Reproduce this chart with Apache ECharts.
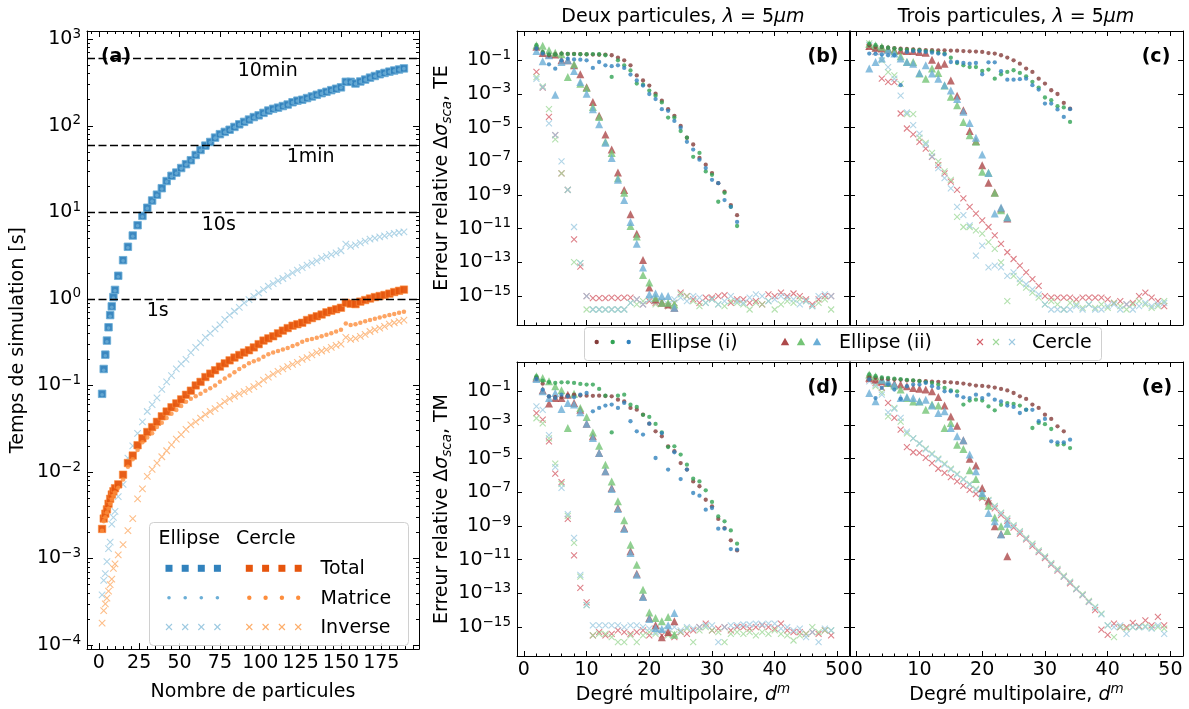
<!DOCTYPE html>
<html><head><meta charset="utf-8">
<script src="https://cdn.jsdelivr.net/npm/echarts@6/dist/echarts.min.js"></script>
<style>html,body{margin:0;padding:0;background:#fff}#c{width:1189px;height:709px}</style>
</head><body><div id="c"></div>
<script>
// ---------------- DATA ----------------
// Panel (a): number of particles and simulation times [s]
const nParticles = [2,3,4,5,6,7,8,9,10,12,15,18,21,24,27,30,33,36,39,42,45,48,51,54,57,60,63,66,69,72,75,78,81,84,87,90,93,96,99,102,105,108,111,114,117,120,123,126,129,132,135,138,141,144,147,150,153,156,159,162,165,168,171,174,177,180,183,186,189];
const ellipseTotal = [0.08,0.155,0.227,0.33,0.47,0.65,0.82,1.05,1.27,
 1.85,2.8,4.0,5.4,7.1,9.1,11.3,13.7,16,19,
 23,26.4,28.8,32.5,36,40,46,52.5,59,65,
 73,80,85,90,97,104,111,118,126,132,
 141,150,157,162,169,176,187,195,200,209,
 218,228,238,247,258,268,278,322,322,308,
 325,342,360,376,394,408,422,435,447,460];
const ellipseMatrice = [0.078,0.15,0.22,0.32,0.46,0.63,0.8,1.02,1.24,
 1.8,2.75,3.9,5.3,7.0,8.9,11.1,13.4,15.7,18.6,
 22.5,26,28.3,32,35.4,39.4,45.3,51.7,58,64,
 72,79,84,89,96,103,110,117,124,130,
 139,148,155,160,167,174,185,193,198,207,
 216,226,236,245,256,266,276,319,319,305,
 322,339,357,373,391,405,419,432,444,457];
const ellipseInverse = [3.8e-4,5.6e-4,6.7e-4,9.2e-4,1.3e-3,1.55e-3,2.5e-3,3.0e-3,3.5e-3,
 0.0052,0.0072,0.0145,0.02,0.028,0.038,0.05,0.06,0.072,0.09,
 0.11,0.13,0.155,0.178,0.2,0.24,0.275,0.31,0.36,0.4,
 0.45,0.5,0.58,0.65,0.72,0.8,0.9,0.98,1.07,1.17,
 1.28,1.4,1.5,1.62,1.72,1.85,2.0,2.15,2.3,2.45,
 2.6,2.75,2.95,3.1,3.25,3.4,3.6,4.3,4.05,4.2,
 4.45,4.65,4.9,5.05,5.2,5.35,5.55,5.7,5.85,5.95];
const cercleTotal = [0.0022,0.0029,0.0033,0.0037,0.0043,0.0049,0.0055,0.006,0.0065,
 0.0072,0.0093,0.0127,0.0155,0.0204,0.0245,0.029,0.033,0.038,0.044,
 0.05,0.056,0.062,0.069,0.078,0.087,0.1,0.11,0.125,0.137,
 0.15,0.165,0.18,0.195,0.21,0.225,0.24,0.255,0.275,0.3,
 0.33,0.35,0.37,0.4,0.43,0.46,0.49,0.51,0.53,0.57,
 0.6,0.63,0.66,0.7,0.73,0.76,0.79,0.9,0.88,0.87,
 0.93,0.97,1.01,1.05,1.08,1.11,1.15,1.2,1.24,1.28];
const cercleMatrice = [0.0021,0.0027,0.003,0.0034,0.0038,0.0043,0.0048,0.0053,0.0058,
 0.0066,0.0082,0.0115,0.014,0.018,0.022,0.025,0.028,0.033,0.037,
 0.042,0.047,0.052,0.058,0.065,0.07,0.075,0.08,0.087,0.093,
 0.1,0.11,0.12,0.13,0.142,0.155,0.167,0.18,0.19,0.2,
 0.215,0.23,0.24,0.25,0.26,0.27,0.285,0.3,0.32,0.335,
 0.345,0.355,0.37,0.385,0.4,0.42,0.44,0.52,0.5,0.51,
 0.53,0.55,0.57,0.59,0.61,0.63,0.65,0.67,0.69,0.71];
const cercleInverse = [1.8e-4,2.5e-4,3.0e-4,3.5e-4,4.2e-4,5.0e-4,5.8e-4,7.7e-4,8.7e-4,
 1.1e-3,1.45e-3,2.1e-3,2.9e-3,4.9e-3,6.4e-3,8.9e-3,0.0107,0.0127,0.015,
 0.0176,0.0206,0.024,0.027,0.031,0.035,0.038,0.042,0.046,0.05,
 0.054,0.059,0.065,0.07,0.075,0.08,0.085,0.09,0.097,0.104,
 0.115,0.125,0.135,0.145,0.155,0.165,0.175,0.185,0.2,0.21,
 0.225,0.24,0.25,0.26,0.275,0.29,0.3,0.36,0.34,0.35,
 0.37,0.39,0.42,0.44,0.46,0.48,0.51,0.53,0.55,0.57];
const refTimes = [600, 60, 10, 1];
const refNames = ['10min', '1min', '10s', '1s'];
const refLabelAt = [104.6, 131.2, 74.3, 36.5];

// Panels (b)-(e): multipolar degree and log10 of relative error
const degrees = [2,3,4,5,6,7,8,9,10,11,12,13,14,15,16,17,18,19,20,21,22,23,24,25,26,27,28,29,30,31,32,33,34,35,36,37,38,39,40,41,42,43,44,45,46,47,48,49];
// (b) Deux particules TE
const b_dot_1 = [-0.3,-0.55,-0.7,-0.65,-0.6,-0.62,-0.62,-0.63,-0.65,-0.66,-0.67,-0.66,-0.7,-0.85,-1.0,-1.3,-1.9,-2.2,-2.5,-2.98,-3.4,-3.9,-4.3,-4.9,-5.6,-6.0,-6.8,-7.2,-7.7,-8.3,-8.8,-9.6,-10.2];
const b_dot_2 = [-0.1,-0.5,-0.65,-0.65,-0.6,-0.62,-0.63,-0.64,-0.64,-0.63,-0.64,-0.7,-1.99,-1.0,-1.3,-1.6,-2.38,-2.45,-2.8,-3.1,-3.5,-4.4,-4.4,-5.2,-5.6,-6.73,-6.5,-7.6,-7.8,-9.4,-8.87,-9.7,-10.84];
const b_dot_3 = [-0.3,-0.6,-1.24,-1.5,-1.0,-0.9,-0.95,-0.96,-1.0,-1.45,-1.1,-1.3,-1.35,-1.3,-1.45,-1.85,-2.2,-2.5,-3.0,-3.3,-3.9,-4.0,-4.6,-5.0,-5.84,-6.3,-6.9,-7.4,-8.1,-8.3,-9.3,-9.7,-10.6];
const b_tri_1 = [-0.2,-0.57,-0.65,-0.66,-0.99,-1.0,-1.3,-1.83,-2.6,-3.47,-4.3,-5.4,-6.3,-7.66,-8.7,-10.15,-11.3,-12.86,-14.5,-15.2,-15.4,-15.5,-15.7];
const b_tri_2 = [-0.1,-0.14,-0.4,-0.55,-0.64,-1.99,-1.24,-2.4,-2.65,-3.77,-4.36,-5.84,-6.5,-8.0,-8.87,-10.84,-11.47,-13.75,-14.2,-15.1,-15.4,-15.4,-15.5];
const b_tri_3 = [-0.45,-1.06,-0.7,-3.04,-1.1,-1.0,-1.63,-2.29,-2.98,-3.9,-4.8,-5.9,-6.8,-8.1,-9.3,-10.6,-11.9,-13.3,-14.9,-14.85,-15.0,-15.0,-15.7];
const b_x_1 = [-1.69,-2.62,-4.36,-5.45,-7.72,-8.7,-11.63,-13.25,-15.0,-15.13,-15.13,-15.13,-15.1,-15.12,-15.1,-15.1,-15.2,-15.5,-15.3,-15.4,-15.3,-15.6,-15.4,-14.8,-15.0,-15.2,-15.4,-15.1,-15.1,-15.0,-14.95,-15.4,-15.2,-15.2,-15.4,-15.3,-15.5,-14.9,-15.0,-14.8,-15.0,-14.85,-15.0,-15.2,-15.5,-15.2,-15.0,-15.0];
const b_x_2 = [-2.0,-2.55,-3.9,-5.7,-7.72,-8.7,-12.98,-13.05,-15.8,-15.8,-15.8,-15.8,-15.8,-15.8,-15.8,-15.4,-15.5,-15.3,-15.2,-15.5,-15.3,-15.6,-15.4,-14.9,-15.0,-15.3,-15.6,-15.4,-15.2,-15.5,-15.6,-15.3,-15.4,-15.5,-15.8,-15.4,-15.5,-15.3,-15.8,-15.5,-15.3,-15.4,-15.2,-15.3,-15.6,-15.4,-15.2,-15.8];
const b_x_3 = [-2.1,-2.6,-4.75,-5.45,-7.0,-8.7,-10.9,-13.05,-15.0,-15.8,-15.8,-15.8,-15.8,-15.8,-15.8,-15.4,-15.2,-15.5,-15.2,-15.3,-15.4,-15.5,-15.2,-15.1,-15.3,-15.0,-15.1,-15.4,-15.2,-15.5,-15.3,-15.0,-15.3,-15.4,-15.1,-14.9,-15.0,-15.3,-15.2,-15.0,-15.1,-15.2,-15.5,-15.3,-15.6,-15.0,-14.9,-15.0];
// (c) Trois particules TE
const c_dot_1 = [-0.11,-0.21,-0.21,-0.25,-0.28,-0.31,-0.33,-0.35,-0.37,-0.39,-0.4,-0.41,-0.41,-0.42,-0.43,-0.45,-0.47,-0.48,-0.5,-0.57,-0.6,-0.7,-0.84,-1.0,-1.2,-1.49,-1.69,-2.09,-2.38,-2.78,-3.0,-3.53,-3.87];
const c_dot_2 = [-0.02,-0.1,-0.2,-0.25,-0.3,-0.35,-0.37,-0.4,-0.4,-0.45,-0.47,-0.55,-0.6,-0.85,-1.16,-1.3,-1.4,-1.4,-1.63,-1.55,-2.09,-1.83,-1.69,-1.59,-1.75,-1.95,-2.28,-2.62,-3.21,-3.37,-3.73,-3.8,-4.66];
const c_dot_3 = [-0.6,-0.62,-0.65,-0.7,-0.7,-2.48,-0.5,-0.45,-0.45,-0.5,-0.55,-0.6,-0.65,-1.1,-1.1,-1.16,-1.2,-1.16,-1.83,-1.12,-1.12,-1.65,-2.15,-2.15,-2.12,-2.09,-2.48,-2.74,-3.57,-3.57,-3.92,-4.36,-3.9];
const c_tri_1 = [-0.15,-0.25,-0.3,-0.35,-0.4,-0.42,-0.45,-0.45,-0.5,-0.55,-0.96,-1.3,-1.2,-2.2,-3.1,-3.96,-5.2,-5.8,-7.23,-8.27,-8.85,-9.8,-10.39];
const c_tri_2 = [-0.02,-0.1,-0.2,-0.3,-0.45,-0.76,-1.1,-1.1,-1.79,-2.09,-1.49,-1.75,-2.5,-3.17,-3.67,-4.66,-5.45,-5.84,-7.62,-7.68,-8.87,-9.9,-10.3];
const c_tri_3 = [-1.49,-1.1,-0.9,-0.41,-0.6,-0.9,-1.1,-1.2,-1.75,-1.3,-1.79,-2.09,-2.48,-2.8,-3.3,-4.06,-4.72,-5.6,-6.6,-7.7,-10.1,-9.74,-10.33];
const c_x_1 = [-0.2,-0.5,-2.09,-2.28,-2.3,-4.16,-5.05,-5.4,-5.84,-6.24,-6.73,-7.23,-7.72,-8.21,-8.7,-9.2,-9.7,-10.1,-10.5,-10.9,-11.4,-11.9,-12.4,-12.8,-13.2,-13.6,-14.0,-14.4,-15.0,-15.1,-15.1,-15.1,-15.1,-15.2,-15.1,-15.1,-15.1,-15.1,-15.2,-15.4,-15.3,-15.5,-15.4,-15.0,-14.8,-15.1,-15.3,-15.6];
const c_x_2 = [-0.0,-0.3,-1.0,-1.7,-1.9,-2.4,-4.2,-4.2,-5.6,-5.9,-6.5,-7.0,-7.6,-8.1,-10.3,-10.9,-10.9,-11.1,-11.3,-11.8,-12.2,-13.0,-15.3,-13.8,-14.2,-14.5,-14.8,-15.1,-15.5,-15.3,-15.5,-15.8,-15.4,-15.5,-15.7,-15.5,-15.7,-15.5,-15.7,-15.4,-15.6,-15.8,-15.5,-15.3,-15.5,-15.7,-15.6,-15.3];
const c_x_3 = [-0.1,-0.5,-0.75,-1.4,-2.09,-3.1,-4.1,-4.85,-5.35,-6.0,-6.7,-7.4,-8.0,-8.6,-9.7,-10.2,-10.8,-12.6,-12.0,-13.3,-13.2,-13.3,-13.8,-13.6,-14.0,-14.3,-14.6,-14.9,-15.5,-15.8,-15.8,-15.8,-15.8,-15.6,-15.8,-15.5,-15.8,-15.8,-15.6,-15.5,-15.8,-15.5,-15.8,-15.6,-15.4,-15.6,-15.5,-15.4];
// (d) Deux particules TM
const d_dot_1 = [-0.2,-0.55,-1.3,-1.35,-1.35,-1.25,-1.2,-1.25,-1.26,-1.27,-1.26,-1.28,-1.3,-1.5,-1.6,-1.99,-2.09,-2.39,-2.92,-3.38,-3.67,-4.27,-4.56,-5.26,-5.65,-6.35,-6.64,-7.44,-7.83,-8.58,-9.12,-9.85,-10.45];
const d_dot_2 = [-0.11,-0.37,-0.45,-0.5,-0.47,-0.47,-0.5,-0.56,-0.6,-0.6,-0.86,-1.26,-3.44,-1.26,-1.2,-1.8,-1.93,-2.4,-2.52,-2.94,-3.44,-4.31,-4.27,-4.76,-5.36,-6.19,-6.35,-6.88,-7.57,-8.43,-8.72,-9.26,-10.05];
const d_dot_3 = [-0.27,-0.9,-1.3,-1.4,-1.2,-1.3,-1.36,-1.2,-1.1,-2.19,-1.99,-1.85,-1.79,-1.99,-1.69,-2.78,-3.38,-3.57,-2.92,-4.96,-3.48,-5.65,-4.62,-6.21,-5.65,-7.04,-7.2,-8.03,-7.93,-9.16,-9.16,-10.37,-10.4];
const d_tri_1 = [-0.2,-0.94,-1.73,-1.4,-1.4,-1.2,-1.69,-2.1,-2.92,-3.67,-4.66,-5.75,-6.74,-7.93,-9.12,-10.5,-11.83,-13.18,-14.47,-14.9,-15.6,-15.3,-14.66];
const d_tri_2 = [-0.11,-0.21,-0.41,-0.7,-0.94,-3.18,-1.14,-1.99,-2.52,-3.44,-4.23,-5.36,-6.35,-7.53,-8.66,-10.11,-11.3,-12.78,-14.13,-14.47,-14.66,-14.4,-15.46];
const d_tri_3 = [-0.27,-1.0,-1.4,-1.1,-2.05,-1.69,-1.79,-2.25,-2.92,-3.77,-4.66,-5.75,-6.8,-7.99,-9.18,-10.6,-11.89,-13.22,-14.52,-15.06,-15.12,-14.9,-14.17];
const d_x_1 = [-2.29,-2.68,-3.97,-5.89,-6.4,-8.58,-10.74,-12.68,-13.53,-15.5,-15.3,-15.5,-15.4,-15.2,-15.3,-15.4,-15.3,-15.2,-15.5,-15.1,-15.5,-15.4,-15.6,-15.3,-15.4,-15.2,-15.0,-14.8,-15.2,-15.1,-15.0,-15.2,-15.0,-15.0,-15.1,-15.0,-14.9,-15.0,-15.1,-14.8,-15.2,-15.3,-15.3,-15.4,-15.3,-15.4,-15.2,-15.5];
const d_x_2 = [-2.6,-2.9,-3.8,-5.3,-6.5,-8.4,-10.0,-12.0,-13.7,-15.5,-15.4,-15.4,-15.6,-15.9,-15.9,-15.5,-15.9,-15.5,-15.3,-15.4,-15.2,-15.5,-15.4,-15.3,-15.1,-15.9,-15.2,-15.0,-15.2,-15.3,-15.9,-15.4,-15.3,-15.4,-15.3,-15.5,-15.3,-15.4,-15.2,-15.4,-15.5,-15.8,-15.5,-15.4,-15.0,-15.3,-15.2,-15.2];
const d_x_3 = [-1.9,-2.1,-3.6,-5.5,-6.74,-8.3,-9.7,-11.9,-13.7,-14.9,-14.9,-14.9,-14.9,-14.9,-15.0,-14.9,-14.9,-15.0,-15.1,-15.3,-15.2,-15.1,-15.0,-15.2,-15.0,-15.1,-15.0,-14.9,-14.9,-15.9,-15.0,-14.9,-14.9,-14.85,-14.85,-14.8,-14.85,-14.8,-14.8,-15.1,-15.0,-15.2,-15.1,-15.6,-15.3,-15.9,-15.1,-15.2];
// (e) Trois particules TM
const e_dot_1 = [-0.15,-0.2,-0.25,-0.28,-0.3,-0.32,-0.35,-0.37,-0.38,-0.4,-0.42,-0.44,-0.45,-0.47,-0.5,-0.54,-0.6,-0.66,-0.68,-0.72,-0.78,-0.86,-0.95,-1.1,-1.3,-1.45,-1.79,-1.99,-2.39,-2.64,-3.08,-3.38];
const e_dot_2 = [0.0,-0.1,-0.18,-0.2,-0.25,-0.28,-0.32,-0.35,-0.4,-0.45,-0.5,-0.6,-0.8,-0.95,-1.0,-1.79,-1.55,-1.5,-1.55,-1.9,-2.13,-1.8,-1.7,-1.75,-1.85,-2.09,-3.18,-2.88,-2.95,-3.24,-4.17,-4.15,-4.37];
const e_dot_3 = [-0.3,-1.4,-0.8,-0.6,-0.9,-1.45,-0.7,-0.6,-0.6,-0.5,-0.7,-0.8,-1.0,-1.0,-1.26,-1.36,-1.4,-1.2,-1.4,-1.2,-1.5,-1.6,-1.85,-1.93,-2.29,-2.1,-2.1,-2.78,-2.64,-3.97,-4.03,-4.03,-3.87];
const e_tri_1 = [-0.2,-0.3,-0.4,-0.5,-0.55,-0.6,-0.7,-0.8,-0.85,-0.9,-1.0,-1.34,-1.85,-2.49,-3.04,-3.9,-5.0,-5.4,-6.74,-7.5,-9.02,-9.48,-10.8];
const e_tri_2 = [0.0,-0.1,-0.3,-0.5,-0.65,-0.9,-1.4,-1.6,-1.6,-2.09,-1.79,-1.85,-3.18,-2.88,-4.17,-4.43,-5.69,-6.21,-7.2,-7.79,-8.5,-9.02,-9.3];
const e_tri_3 = [-1.1,-1.59,-0.31,-0.41,-0.6,-1.4,-1.34,-1.4,-1.59,-1.5,-1.85,-2.29,-2.19,-3.18,-3.67,-3.91,-4.76,-5.75,-7.04,-8.23,-8.72,-9.51,-8.86];
const e_x_1 = [-0.31,-0.5,-0.8,-1.69,-2.58,-3.28,-4.31,-4.62,-4.66,-4.96,-5.26,-5.6,-5.85,-6.1,-6.35,-6.6,-6.85,-7.1,-7.35,-7.65,-7.95,-8.35,-8.7,-9.1,-9.45,-9.8,-10.2,-10.55,-10.9,-11.3,-11.65,-12.0,-12.4,-12.75,-13.1,-13.5,-14.0,-15.16,-15.46,-14.8,-15.0,-15.0,-14.75,-14.95,-14.6,-14.9,-14.4,-14.9];
const e_x_2 = [-0.21,-0.7,-1.06,-2.49,-1.99,-2.8,-3.5,-3.8,-4.1,-4.4,-4.7,-5.0,-5.3,-5.6,-5.9,-6.2,-6.5,-6.8,-7.1,-7.45,-7.8,-8.2,-8.55,-8.95,-9.3,-9.7,-10.05,-10.45,-10.8,-11.2,-11.55,-11.95,-12.3,-12.7,-13.05,-13.45,-13.8,-14.2,-14.9,-15.6,-15.0,-15.1,-15.0,-15.0,-14.95,-15.05,-15.0,-15.1];
const e_x_3 = [-0.41,-0.6,-1.2,-2.25,-2.05,-2.58,-3.4,-3.8,-4.1,-4.45,-4.75,-5.05,-5.35,-5.65,-5.95,-6.25,-6.55,-6.85,-7.15,-7.5,-7.85,-8.25,-8.6,-9.0,-9.35,-9.75,-10.1,-10.5,-10.85,-11.25,-11.6,-12.0,-12.35,-12.75,-13.1,-13.5,-13.85,-14.25,-14.9,-15.0,-14.9,-15.4,-15.0,-15.0,-15.0,-15.1,-14.9,-15.4];

// ---------------- CHART ----------------
const FF = 'DejaVu Sans';
const FS = 19;
const C = { eTot:'#3182bd', eMat:'#6baed6', eInv:'#9ecae1', cTot:'#e6550d', cMat:'#fd8d3c', cInv:'#fdae6b',
  dot:['#843c39','#31a354','#3182bd'], tri:['#ad494a','#74c476','#6baed6'], crs:['#d6616b','#a1d99b','#9ecae1'] };
const CROSS = 'path://M0,0L10,10M10,0L0,10';

const grids = [
  {left:87, top:31, width:332, height:624},
  {left:517, top:31, width:332, height:294},
  {left:850, top:31, width:333, height:294},
  {left:517, top:362, width:332, height:294},
  {left:850, top:362, width:333, height:294}
];

const supRich = {
  b:{fontFamily:FF, fontSize:FS, lineHeight:24, color:'#000'},
  s:{fontFamily:FF, fontSize:13.5, lineHeight:13, verticalAlign:'top', color:'#000'}
};
const expLabel = v => { const n = Math.round(v); return '{b|10}{s|' + (n < 0 ? '\u2212' + (-n) : String(n)) + '}'; };

const xAxis = [], yAxis = [], mainX = [], mainY = [];
function axisBase(gi, min, max, pos, ticks, len, showLine) {
  return {type:'value', gridIndex:gi, min:min, max:max, position:pos,
    axisLine:{show:showLine, onZero:false, lineStyle:{color:'#000', width:1}},
    axisTick:{show:true, inside:true, length:len, customValues:ticks, lineStyle:{color:'#000', width:1}},
    axisLabel:{show:false}, splitLine:{show:false}, minorTick:{show:false}, minorSplitLine:{show:false},
    axisPointer:{show:false}, silent:true, z:5};
}
function range(a, b, s) { const r = []; for (let v = a; v <= b + 1e-9; v += s) r.push(+v.toFixed(6)); return r; }

// --- panel (a) axes
{
  const xmin = -7.35, xmax = 198.35, ymin = -4.046, ymax = 3.095;
  const xMaj = range(0, 175, 25), xMin = range(-5, 195, 5);
  const yMaj = range(-4, 3, 1);
  const yMin = [];
  for (let n = -5; n <= 3; n++) for (let k = 2; k <= 9; k++) { const v = n + Math.log10(k); if (v > ymin && v < ymax) yMin.push(v); }
  const xb = axisBase(0, xmin, xmax, 'bottom', xMaj, 6, true);
  xb.axisLabel = {show:true, customValues:xMaj, margin:2, color:'#000', fontFamily:FF, fontSize:FS, lineHeight:24};
  xb.name = 'Nombre de particules'; xb.nameLocation = 'middle'; xb.nameGap = 25;
  xb.nameTextStyle = {fontFamily:FF, fontSize:FS, color:'#000', lineHeight:24};
  mainX[0] = xAxis.length; xAxis.push(xb);
  xAxis.push(axisBase(0, xmin, xmax, 'top', xMaj, 6, true));
  xAxis.push(axisBase(0, xmin, xmax, 'bottom', xMin, 3, false));
  xAxis.push(axisBase(0, xmin, xmax, 'top', xMin, 3, false));
  const yl = axisBase(0, ymin, ymax, 'left', yMaj, 6, true);
  yl.axisLabel = {show:true, customValues:yMaj, margin:6, formatter:expLabel, rich:supRich};
  yl.name = 'Temps de simulation [s]'; yl.nameLocation = 'middle'; yl.nameRotate = 90; yl.nameGap = 57;
  yl.nameTextStyle = {fontFamily:FF, fontSize:FS, color:'#000', lineHeight:24};
  mainY[0] = yAxis.length; yAxis.push(yl);
  yAxis.push(axisBase(0, ymin, ymax, 'right', yMaj, 6, true));
  yAxis.push(axisBase(0, ymin, ymax, 'left', yMin, 3, false));
  yAxis.push(axisBase(0, ymin, ymax, 'right', yMin, 3, false));
}
// --- panels (b)-(e) axes
const errRich = {
  n:{fontFamily:FF, fontSize:FS, lineHeight:24, color:'#000'},
  g:{fontFamily:FF, fontSize:FS, lineHeight:24, color:'#000'},
  i:{fontFamily:FF, fontSize:FS, lineHeight:24, fontStyle:'italic', color:'#000'},
  sub:{fontFamily:FF, fontSize:13.5, lineHeight:13, fontStyle:'italic', verticalAlign:'bottom', color:'#000'}
};
const degRich = {
  n:{fontFamily:FF, fontSize:FS, lineHeight:24, color:'#000'},
  i:{fontFamily:FF, fontSize:FS, lineHeight:24, fontStyle:'italic', color:'#000'},
  sup:{fontFamily:FF, fontSize:13.5, lineHeight:13, fontStyle:'italic', verticalAlign:'top', color:'#000'}
};
const panelCfg = [
  {gi:1, xl:false, yl:true,  mode:'TE', xmin:-1.1,  xmax:51.85},
  {gi:2, xl:false, yl:false, mode:'TE', xmin:-1.07, xmax:52.0},
  {gi:3, xl:true,  yl:true,  mode:'TM', xmin:-1.1,  xmax:51.85},
  {gi:4, xl:true,  yl:false, mode:'TM', xmin:-1.07, xmax:52.0}
];
panelCfg.forEach(p => {
  const ymin = -16.72, ymax = 0.74;
  const xMaj = range(0, 50, 10), xMin = range(0, 50, 2), yMaj = range(-15, -1, 2);
  const xb = axisBase(p.gi, p.xmin, p.xmax, 'bottom', xMaj, 5, true);
  if (p.xl) {
    xb.axisLabel = {show:true, customValues:xMaj, margin:2, color:'#000', fontFamily:FF, fontSize:FS, lineHeight:24};
    xb.name = '{n|Degré multipolaire, }{i|d}{sup|m}'; xb.nameLocation = 'middle'; xb.nameGap = 26;
    xb.nameTextStyle = {rich:degRich, lineHeight:24};
  }
  mainX[p.gi] = xAxis.length; xAxis.push(xb);
  xAxis.push(axisBase(p.gi, p.xmin, p.xmax, 'top', xMaj, 5, true));
  xAxis.push(axisBase(p.gi, p.xmin, p.xmax, 'bottom', xMin, 2.5, false));
  xAxis.push(axisBase(p.gi, p.xmin, p.xmax, 'top', xMin, 2.5, false));
  const yl = axisBase(p.gi, ymin, ymax, 'left', yMaj, 5, true);
  if (p.yl) {
    yl.axisLabel = {show:true, customValues:yMaj, margin:6, formatter:expLabel, rich:supRich};
    yl.name = '{n|Erreur relative }{g|\u0394}{i|\u03c3}{sub|sca}{n|, ' + p.mode + '}';
    yl.nameLocation = 'middle'; yl.nameRotate = 90; yl.nameGap = 63;
    yl.nameTextStyle = {rich:errRich, lineHeight:24};
  }
  mainY[p.gi] = yAxis.length; yAxis.push(yl);
  yAxis.push(axisBase(p.gi, ymin, ymax, 'right', yMaj, 5, true));
});

// --- series
const series = [];
function sc(gi, data, sym, size, color, itemStyle) {
  const it = itemStyle || (sym === CROSS ? {color:color, borderColor:color, borderWidth:1.1} : {color:color});
  series.push({type:'scatter', xAxisIndex:mainX[gi], yAxisIndex:mainY[gi], data:data, symbol:sym,
    symbolSize:size, itemStyle:it, silent:true, animation:false, z:2});
}
const aData = vals => nParticles.map((x, i) => [x, Math.log10(vals[i])]);
sc(0, aData(ellipseTotal), 'rect', 7.5, C.eTot, {color:C.eTot, opacity:0.95, borderColor:'rgba(107,174,214,0.9)', borderWidth:1});
sc(0, aData(ellipseMatrice), 'circle', 3.6, C.eMat);
sc(0, aData(ellipseInverse), CROSS, 6.5, C.eInv);
sc(0, aData(cercleTotal), 'rect', 7.5, C.cTot, {color:C.cTot, opacity:0.95, borderColor:'rgba(253,141,60,0.6)', borderWidth:1});
sc(0, aData(cercleMatrice), 'circle', 4.5, C.cMat);
sc(0, aData(cercleInverse), CROSS, 6.5, C.cInv);

// reference lines (dashed)
series.push({
  type:'line', xAxisIndex:mainX[0], yAxisIndex:mainY[0], silent:true, animation:false, z:4,
  data: [], showSymbol:false,
  markLine:{silent:true, symbol:'none', animation:false, label:{show:false},
    lineStyle:{color:'#000', type:[8, 3.5], width:1.4},
    data: refTimes.map(t => ({yAxis: Math.log10(t)}))}
});

const dData = arr => arr.map((v, i) => [degrees[i], v]);
const panels = [
  {gi:1, dots:[b_dot_1,b_dot_2,b_dot_3], tris:[b_tri_1,b_tri_2,b_tri_3], crs:[b_x_1,b_x_2,b_x_3]},
  {gi:2, dots:[c_dot_1,c_dot_2,c_dot_3], tris:[c_tri_1,c_tri_2,c_tri_3], crs:[c_x_1,c_x_2,c_x_3]},
  {gi:3, dots:[d_dot_1,d_dot_2,d_dot_3], tris:[d_tri_1,d_tri_2,d_tri_3], crs:[d_x_1,d_x_2,d_x_3]},
  {gi:4, dots:[e_dot_1,e_dot_2,e_dot_3], tris:[e_tri_1,e_tri_2,e_tri_3], crs:[e_x_1,e_x_2,e_x_3]}
];
panels.forEach(p => {
  [0,1,2].forEach(k => sc(p.gi, dData(p.crs[k]), CROSS, 6, C.crs[k]));
  [0,1,2].forEach(k => sc(p.gi, dData(p.tris[k]), 'triangle', 8, C.tri[k]));
  [0,1,2].forEach(k => sc(p.gi, dData(p.dots[k]), 'circle', 4.3, C.dot[k]));
});

// --- graphics: panel tags and legends
const G = [];
const txt = (t, x, y, opts) => G.push(Object.assign({type:'text', z:20, style:Object.assign({text:t, x:x, y:y, fill:'#000',
  font:FS + 'px "DejaVu Sans"', textAlign:'left', textVerticalAlign:'middle'}, opts || {})}));
[['(a)',116,57],['(b)',823,57],['(c)',1156,57],['(d)',823,388],['(e)',1157,388]].forEach(t =>
  txt(t[0], t[1], t[2], {font:'bold ' + FS + 'px "DejaVu Sans"', textAlign:'center'}));
const cross = (cx, cy, h, col) => {
  G.push({type:'line', z:20, shape:{x1:cx-h, y1:cy-h, x2:cx+h, y2:cy+h}, style:{stroke:col, lineWidth:1.1}});
  G.push({type:'line', z:20, shape:{x1:cx-h, y1:cy+h, x2:cx+h, y2:cy-h}, style:{stroke:col, lineWidth:1.1}});
};
const dot = (cx, cy, r, col) => G.push({type:'circle', z:20, shape:{cx:cx, cy:cy, r:r}, style:{fill:col}});
const sq = (cx, cy, s, col) => G.push({type:'rect', z:20, shape:{x:cx-s/2, y:cy-s/2, width:s, height:s}, style:{fill:col}});
const tri = (cx, cy, col) => G.push({type:'polygon', z:20, shape:{points:[[cx, cy-4.2],[cx-4.2, cy+3.2],[cx+4.2, cy+3.2]]}, style:{fill:col}});

// center legend
G.push({type:'rect', z:19, shape:{x:584.5, y:327.5, width:517, height:33, r:3}, style:{fill:'rgba(255,255,255,0.85)', stroke:'#d0d0d0', lineWidth:1}});
[596.7, 612.7, 628.7].forEach((x, k) => dot(x, 342, 2.2, C.dot[k]));
txt('Ellipse (i)', 650, 343);
[785, 801, 817].forEach((x, k) => tri(x, 342, C.tri[k]));
txt('Ellipse (ii)', 839, 343);
[980, 996, 1012].forEach((x, k) => cross(x, 342, 3, C.crs[k]));
txt('Cercle', 1032, 343);

// panel (a) legend
G.push({type:'rect', z:19, shape:{x:149.5, y:522.5, width:259, height:123, r:4}, style:{fill:'rgba(255,255,255,0.85)', stroke:'#d0d0d0', lineWidth:1}});
txt('Ellipse', 158.5, 539.5);
txt('Cercle', 236, 539.5);
const ex = [169, 185.2, 201.3, 217.4], cx = [249.3, 265.6, 281.9, 298.2];
const rows = [568.3, 597.7, 627];
ex.forEach(x => sq(x, rows[0], 7, C.eTot)); cx.forEach(x => sq(x, rows[0], 7, C.cTot));
ex.forEach(x => dot(x, rows[1], 1.8, C.eMat)); cx.forEach(x => dot(x, rows[1], 2.2, C.cMat));
ex.forEach(x => cross(x, rows[2], 3, C.eInv)); cx.forEach(x => cross(x, rows[2], 3, C.cInv));
txt('Total', 320.5, rows[0] + 1); txt('Matrice', 320.5, rows[1] + 1); txt('Inverse', 320.5, rows[2] + 1);

const titleRich = {
  n:{fontFamily:FF, fontSize:FS, fontWeight:'normal', lineHeight:24, color:'#000'},
  i:{fontFamily:FF, fontSize:FS, fontWeight:'normal', lineHeight:24, fontStyle:'italic', color:'#000'}
};
const option = {
  backgroundColor:'#fff',
  animation:false,
  title:[
    {text:'{n|Deux particules, }{i|\u03bb}{n| = 5}{i|\u03bcm}', left:683, top:5, padding:0, textAlign:'center', textStyle:{fontWeight:'normal', rich:titleRich}},
    {text:'{n|Trois particules, }{i|\u03bb}{n| = 5}{i|\u03bcm}', left:1016, top:5, padding:0, textAlign:'center', textStyle:{fontWeight:'normal', rich:titleRich}}
  ],
  grid:grids,
  xAxis:xAxis,
  yAxis:yAxis,
  series:series,
  graphic:{elements:G}
};
const chart = echarts.init(document.getElementById('c'));
chart.setOption(option);

// labels of the reference lines, placed through the panel (a) scales
const refLabels = refTimes.map((t, i) => {
  const p = chart.convertToPixel({xAxisIndex:mainX[0], yAxisIndex:mainY[0]}, [refLabelAt[i], Math.log10(t)]);
  return {type:'text', z:20, style:{text:refNames[i], x:p[0], y:p[1] + 3, fill:'#000', font:FS + 'px "DejaVu Sans"',
    textAlign:'center', textVerticalAlign:'top'}};
});
chart.setOption({graphic:{elements:G.concat(refLabels)}});
</script></body></html>
